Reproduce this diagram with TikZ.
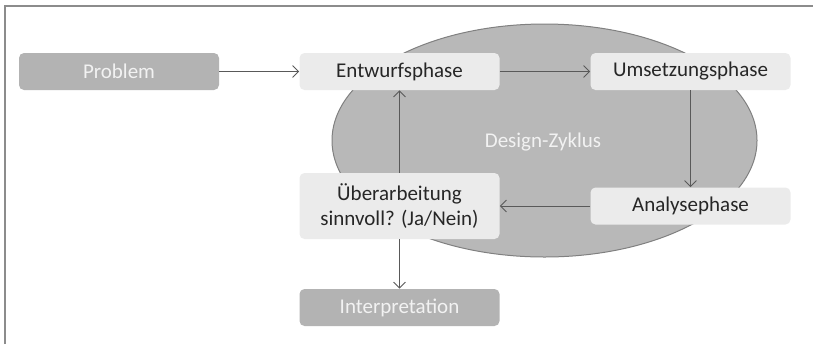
\documentclass[tikz,border=0pt]{standalone}
\usepackage{fontspec}
\setmainfont{Carlito}
\usetikzlibrary{arrows.meta,shapes.geometric}
\definecolor{boxgrau}{HTML}{B3B3B3}
\definecolor{phasengrau}{HTML}{EBEBEB}
\definecolor{zyklusgrau}{HTML}{B8B8B8}
\begin{document}
\begin{tikzpicture}[x=0.5pt, y=-0.5pt, >={Straight Barb[length=3pt,width=6pt]}]
    \tikzstyle{kasten}=[rounded corners=2.5pt, minimum width=100pt, minimum height=18.5pt, align=center, font=\fontsize{10.5}{12.5}\selectfont]
    \tikzstyle{phase}=[kasten, fill=phasengrau, text=black!85]
    \tikzstyle{rand}=[kasten, fill=boxgrau, text=white!95!black]
    \tikzstyle{pfeil}=[->, draw=black!65, line width=0.4pt]
    \useasboundingbox (0,0) rectangle (813,344);

    % rahmen
    \draw [black!45, line width=1pt] (5,344) -- (5,6) -- (813,6);

    % zyklus
    \node [ellipse, draw=black!50, fill=zyklusgrau, line width=0.5pt, minimum width=212.5pt, minimum height=116.5pt] (zyklus) at (544.5,140.5) {};
    \node [text=white!95!black, font=\fontsize{10.5}{12.5}\selectfont] (zyklustext) at (543,142) {Design-Zyklus};

    % draw phasen
    \foreach \n/\x/\y/\t in {entwurf/399.5/71.5/Entwurfsphase, umsetzung/690.5/71.5/Umsetzungsphase, analyse/690.5/206/Analysephase}
    \node [phase] (\n) at (\x,\y) {\t};
    \node [phase, minimum height=33pt] (ueberarbeitung) at (399.5,206) {Überarbeitung\\sinnvoll? (Ja/Nein)};

    \node [rand] (problem) at (119,71.5) {Problem};
    \node [rand] (interpretation) at (399.5,307.5) {Interpretation};

    % draw pfeile
    \draw [pfeil] (problem) -- (entwurf);
    \draw [pfeil] (entwurf) -- (umsetzung);
    \draw [pfeil] (umsetzung) -- (analyse);
    \draw [pfeil] (analyse) -- (ueberarbeitung);
    \draw [pfeil] (ueberarbeitung) -- (entwurf);
    \draw [pfeil] (ueberarbeitung) -- (interpretation);
\end{tikzpicture}
\end{document}
